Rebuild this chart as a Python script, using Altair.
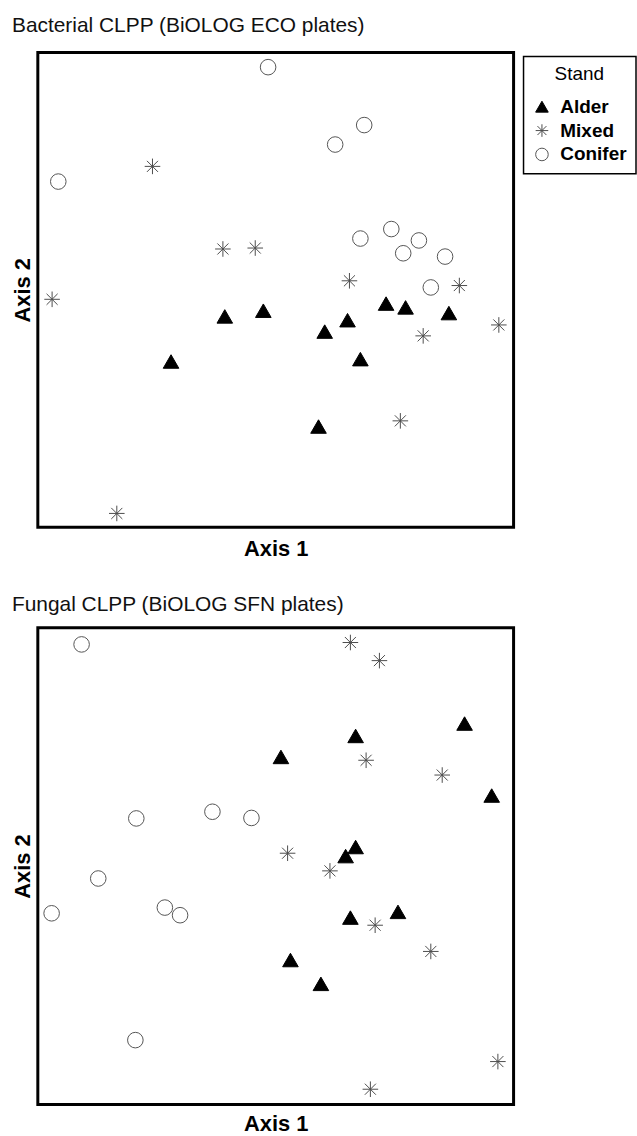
import altair as alt
import pandas as pd

stands = ["Alder", "Mixed", "Conifer"]

# Bacterial CLPP (BiOLOG ECO plates) - ordination scores, relative units (0-100)
eco_alder_x = [39.3, 47.4, 28.0, 60.3, 65.1, 73.2, 77.3, 86.4, 67.8, 59.0]
eco_alder_y = [44.4, 45.6, 34.9, 41.2, 43.6, 47.1, 46.3, 45.1, 35.4, 21.2]
eco_mixed_x = [24.1, 38.9, 45.7, 3.0, 65.5, 88.6, 96.9, 81.0, 76.2, 16.6]
eco_mixed_y = [76.0, 58.6, 58.8, 48.0, 51.9, 50.9, 42.6, 40.3, 22.4, 2.9]
eco_conifer_x = [48.4, 68.6, 62.5, 4.3, 74.3, 67.8, 80.1, 76.8, 85.6, 82.6]
eco_conifer_y = [96.9, 84.7, 80.6, 72.8, 62.8, 60.8, 60.4, 57.7, 57.0, 50.5]

# Fungal CLPP (BiOLOG SFN plates)
sfn_alder_x = [89.7, 66.8, 51.1, 95.4, 66.8, 64.7, 65.7, 75.7, 53.1, 59.5]
sfn_alder_y = [79.9, 77.3, 72.9, 64.8, 54.0, 52.1, 39.2, 40.4, 30.3, 25.3]
sfn_mixed_x = [65.7, 71.8, 69.0, 85.0, 52.5, 61.4, 70.9, 82.6, 96.7, 69.9]
sfn_mixed_y = [96.9, 93.1, 72.2, 69.1, 52.7, 49.0, 37.6, 32.1, 9.0, 3.2]
sfn_conifer_x = [9.2, 20.7, 36.7, 44.9, 12.7, 2.9, 26.7, 29.9, 20.5]
sfn_conifer_y = [96.5, 60.0, 61.4, 60.1, 47.4, 40.1, 41.3, 39.7, 13.5]


def frame(groups):
    rows = []
    for stand, xs, ys in groups:
        for x, y in zip(xs, ys):
            rows.append({"stand": stand, "x": x, "y": y})
    return pd.DataFrame(rows)


eco_df = frame([("Alder", eco_alder_x, eco_alder_y),
                ("Mixed", eco_mixed_x, eco_mixed_y),
                ("Conifer", eco_conifer_x, eco_conifer_y)])
sfn_df = frame([("Alder", sfn_alder_x, sfn_alder_y),
                ("Mixed", sfn_mixed_x, sfn_mixed_y),
                ("Conifer", sfn_conifer_x, sfn_conifer_y)])

FONT = "Liberation Sans, Arial, sans-serif"
ASTERISK = "M0,-1L0,1M-1,0L1,0M-0.71,-0.71L0.71,0.71M-0.71,0.71L0.71,-0.71"

legend = alt.Legend(title="Stand", orient="none", legendX=488, legendY=4)
shape_scale = alt.Scale(domain=stands, range=["triangle-up", ASTERISK, "circle"])
fill_scale = alt.Scale(domain=stands, range=["#000000", "transparent", "transparent"])
stroke_scale = alt.Scale(domain=stands, range=["#000000", "#4d4d4d", "#555555"])


def panel(df, title, title_offset, xpad, h):
    return alt.Chart(df).mark_point(size=245, opacity=1, strokeWidth=1, filled=True).encode(
        x=alt.X("x:Q", scale=alt.Scale(domain=[0, 100], nice=False, zero=False),
                axis=alt.Axis(title="Axis 1", titlePadding=xpad, titleBaseline="alphabetic")),
        y=alt.Y("y:Q", scale=alt.Scale(domain=[0, 100], nice=False, zero=False),
                axis=alt.Axis(title="Axis 2", titlePadding=8, titleBaseline="alphabetic")),
        shape=alt.Shape("stand:N", scale=shape_scale, legend=legend),
        fill=alt.Fill("stand:N", scale=fill_scale, legend=legend),
        stroke=alt.Stroke("stand:N", scale=stroke_scale, legend=legend),
    ).properties(
        width=478, height=h,
        title=alt.TitleParams(title, anchor="start", frame="group", dx=-26,
                              fontSize=21, fontWeight="normal", font=FONT,
                              offset=title_offset, color="#111111"),
    )


top = panel(eco_df, "Bacterial CLPP (BiOLOG ECO plates)", 17, 28, 477)
bottom = panel(sfn_df, "Fungal CLPP (BiOLOG SFN plates)", 13, 26, 479)

chart = alt.vconcat(top, bottom, spacing=31).properties(
    padding={"left": 10, "top": 10, "right": 0, "bottom": 0},
    background="white",
).configure_view(
    stroke="black", strokeWidth=3
).configure_axis(
    domain=False, ticks=False, labels=False, grid=False,
    titleFont=FONT, titleFontSize=22, titleFontWeight="bold", titleColor="black",
).configure_legend(
    strokeColor="black", strokeWidth=1.5, padding=9, fillColor="white",
    titleFont=FONT, titleFontSize=19, titleFontWeight="normal", titleColor="black",
    titleAnchor="middle", titlePadding=13,
    labelFont=FONT, labelFontSize=19, labelFontWeight="bold", labelColor="black",
    labelOffset=9, rowPadding=4, symbolSize=160, symbolStrokeWidth=1,
)

chart.save("out.html", embed_options={"renderer": "svg", "actions": False})
